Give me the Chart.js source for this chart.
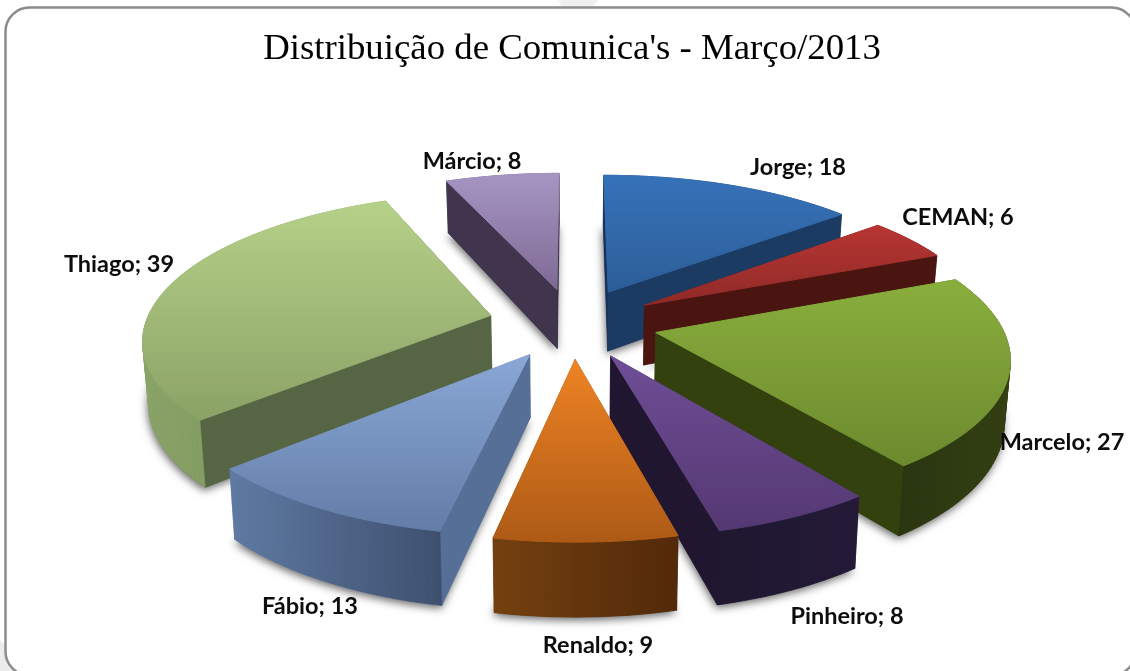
<!DOCTYPE html>
<html lang="pt">
<head>
<meta charset="utf-8">
<script src="https://cdn.jsdelivr.net/npm/chart.js@4"></script>
<style>html,body{margin:0;padding:0;background:#fff}canvas{display:block}</style>
</head>
<body>
<canvas id="c" width="1130" height="671"></canvas>
<script>
const categories = ['Jorge','CEMAN','Marcelo','Pinheiro','Renaldo','Fábio','Thiago','Márcio'];
const values = [18,6,27,8,9,13,39,8];
const titleText = "Distribuição de Comunica's - Março/2013";

// style tables
const topColors = [['#3672b9','#2c5e98'],['#b83532','#8f2a28'],['#8aae3d','#6c8a2e'],['#6f4e96','#543872'],['#ee8324','#ad5a16'],['#8aa7d6','#627da6'],['#b6d189','#8ba266'],['#a695c3','#7f6a94']];
const wallStart = ['#15305a','#3a0f0d','#2e3a10','#2a1d40','#5a3010','#566f96','#566544','#41354d'];
const wallEnd   = ['#1b3b63','#4a1411','#33410f','#21162f','#5a3010','#667fa6','#5a6944','#362c42'];
const outerLR   = [['#1b3b63','#1b3b63'],['#4a1411','#4a1411'],['#2a3610','#333f12'],['#1f1830','#241a38'],['#74400f','#52290a'],['#5f7aa3','#3e506e'],['#8aa468','#6f8750'],['#41354d','#41354d']];
const labelPos = [[798,167],[958,217],[1062,442],[847,616],[598,645],[310,606],[119,264],[472,161]];

const view = {cx:573, cy:323, D:2300, a:0.4144, h:61, taper:0.014};
function project(X,Y,z){
  const s = 1/(1-Y/view.D), zz = z||0;
  return [view.cx+X*s*(1-view.taper*zz), view.cy+view.a*Y*s+zz*view.h*s];
}
function poly(ctx,pts){
  ctx.beginPath();
  pts.forEach((p,i)=> i?ctx.lineTo(p[0],p[1]):ctx.moveTo(p[0],p[1]));
  ctx.closePath();
}
function fillFace(ctx,pts,col){
  poly(ctx,pts);
  ctx.fillStyle=col; ctx.strokeStyle=col; ctx.lineWidth=0.6;
  ctx.fill(); ctx.stroke();
}
function roundFrame(ctx){
  const x=5.5,y=7.5,w=1130,h=668,r=24;
  ctx.save();
  ctx.fillStyle='#ececec';
  ctx.beginPath();ctx.moveTo(0,640);ctx.lineTo(0,671);ctx.lineTo(30,671);ctx.closePath();ctx.fill();
  ctx.fillStyle='#f0f0f0';
  ctx.beginPath();ctx.moveTo(558,0);ctx.lineTo(599,0);ctx.lineTo(592,7);ctx.lineTo(562,7);ctx.closePath();ctx.fill();
  ctx.beginPath();ctx.roundRect(x,y,w,h,r);
  ctx.fillStyle='#fff';ctx.fill();
  ctx.strokeStyle='#8c8c8c';ctx.lineWidth=2.5;ctx.stroke();
  ctx.restore();
}

const pie3d = {
  id:'pie3d',
  beforeDraw(chart){ roundFrame(chart.ctx); },
  beforeDatasetsDraw(chart){
    const ctx=chart.ctx, arcs=chart.getDatasetMeta(0).data;
    const slices=arcs.map((arc,i)=>{
      const off=(arc.options.offset||0)/4, mid=(arc.startAngle+arc.endAngle)/2;
      return {i,arc,ox:Math.cos(mid)*off,oy:Math.sin(mid)*off};
    }).sort((p,q)=>p.oy-q.oy);
    ctx.save();
    for(const sl of slices){
      const {i,arc,ox,oy}=sl, R=arc.outerRadius;
      const n=Math.max(8,Math.round((arc.endAngle-arc.startAngle)*40));
      const rim=[];
      for(let k=0;k<=n;k++){
        const t=arc.startAngle+(arc.endAngle-arc.startAngle)*k/n;
        rim.push([ox+Math.cos(t)*R,oy+Math.sin(t)*R]);
      }
      const apex=[ox,oy];
      const top=[apex,...rim].map(p=>project(p[0],p[1],0));
      const bottom=[apex,...rim].map(p=>project(p[0],p[1],1));
      // soft shadow under the slice
      ctx.save();
      ctx.shadowColor='rgba(0,0,0,0.6)';ctx.shadowBlur=8;ctx.shadowOffsetX=-1;ctx.shadowOffsetY=3;
      poly(ctx,bottom);ctx.fillStyle=wallEnd[i];ctx.fill();
      ctx.restore();
      // side faces, far ones first
      const xs=rim.map(p=>project(p[0],p[1],0)[0]);
      const x0=Math.min(...xs), x1=Math.max(...xs);
      const outer=ctx.createLinearGradient(x0,0,x1,0);
      outer.addColorStop(0,outerLR[i][0]);outer.addColorStop(1,outerLR[i][1]);
      const faces=[];
      const quad=(a,b)=>[project(a[0],a[1],0),project(b[0],b[1],0),project(b[0],b[1],1),project(a[0],a[1],1)];
      faces.push({d:(apex[1]+rim[0][1])/2,pts:quad(apex,rim[0]),col:wallStart[i]});
      faces.push({d:(apex[1]+rim[n][1])/2,pts:quad(apex,rim[n]),col:wallEnd[i]});
      for(let k=0;k<n;k++){
        faces.push({d:(rim[k][1]+rim[k+1][1])/2,pts:quad(rim[k],rim[k+1]),col:outer});
      }
      faces.sort((p,q)=>p.d-q.d).forEach(f=>fillFace(ctx,f.pts,f.col));
      // top face, its edge painted over the side faces' seams
      const ys=top.map(p=>p[1]);
      const g=ctx.createLinearGradient(0,Math.min(...ys),0,Math.max(...ys));
      g.addColorStop(0,topColors[i][0]);g.addColorStop(1,topColors[i][1]);
      poly(ctx,top);ctx.fillStyle=g;ctx.strokeStyle=g;ctx.lineWidth=1;ctx.lineJoin='round';ctx.fill();ctx.stroke();
    }
    ctx.restore();
    return false;
  },
  afterDraw(chart){
    const ctx=chart.ctx;
    ctx.save();
    ctx.font='bold 23.5px Lato';
    ctx.fillStyle='#0d0d0d';ctx.textAlign='center';ctx.textBaseline='middle';
    categories.forEach((c,i)=>ctx.fillText(c+'; '+values[i],labelPos[i][0],labelPos[i][1]));
    ctx.restore();
  }
};

new Chart(document.getElementById('c'),{
  type:'pie',
  data:{labels:categories,datasets:[{data:values,offset:340,hoverOffset:0,borderWidth:0,backgroundColor:topColors.map(c=>c[0])}]},
  options:{
    responsive:false,animation:false,radius:345,rotation:0,
    layout:{padding:{left:14,top:31}},
    plugins:{
      legend:{display:false},tooltip:{enabled:false},
      title:{display:true,text:titleText,color:'#000',font:{family:'"Liberation Serif"',size:36.8,weight:'normal',lineHeight:1},padding:0}
    }
  },
  plugins:[pie3d]
});
</script>
</body>
</html>
